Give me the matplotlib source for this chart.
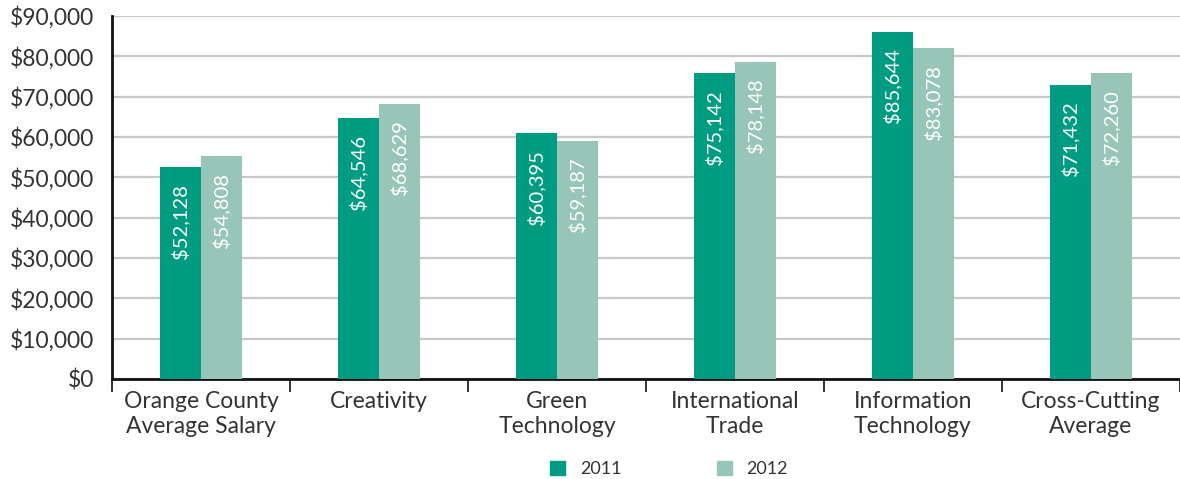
import matplotlib
matplotlib.use("Agg")
import matplotlib.pyplot as plt
from matplotlib.ticker import FuncFormatter, FixedLocator
from matplotlib.patches import Patch
import numpy as np

categories = ["Orange County\nAverage Salary", "Creativity", "Green\nTechnology",
              "International\nTrade", "Information\nTechnology", "Cross-Cutting\nAverage"]
# bar heights as drawn in the reference
heights_2011 = [52500, 64700, 61000, 75800, 86100, 72900]
heights_2012 = [55300, 68200, 59000, 78600, 82000, 75800]
# printed data labels
labels_2011 = ["$52,128", "$64,546", "$60,395", "$75,142", "$85,644", "$71,432"]
labels_2012 = ["$54,808", "$68,629", "$59,187", "$78,148", "$83,078", "$72,260"]
series_names = ["2011", "2012"]

c2011 = "#009C82"
c2012 = "#97C5B8"
txt = "#333333"

plt.rcParams['font.family'] = ['Lato', 'DejaVu Sans']

fig = plt.figure(figsize=(11.8, 4.79), dpi=100)
ax = fig.add_axes([0.0949, 0.2088, 0.905, 0.7578])

x = np.arange(len(categories))
w = 0.23
b1 = ax.bar(x - w/2, heights_2011, w, color=c2011, zorder=3)
b2 = ax.bar(x + w/2, heights_2012, w, color=c2012, zorder=3)

for rects, labs in ((b1, labels_2011), (b2, labels_2012)):
    for r, lab in zip(rects, labs):
        ax.annotate(lab, (r.get_x() + r.get_width()/2, r.get_height()),
                    xytext=(0, -12), textcoords="offset points",
                    rotation=90, ha="center", va="top", color="white",
                    fontsize=14.5, zorder=4)

ax.set_ylim(0, 90000)
ax.set_xlim(-0.5, len(categories) - 0.5)
ax.set_yticks(np.arange(0, 90001, 10000))
ax.yaxis.set_major_formatter(FuncFormatter(lambda v, p: f"${v:,.0f}"))
ax.yaxis.grid(True, color="#c8c8c8", linewidth=1.6, zorder=0)
ax.set_axisbelow(True)

ax.set_xticks(x)
ax.set_xticklabels(categories, fontsize=16.5, color=txt, linespacing=1.2)
ax.xaxis.set_minor_locator(FixedLocator(np.arange(-0.5, len(categories), 1.0)))
ax.tick_params(axis="x", which="major", length=0, pad=9)
ax.tick_params(axis="x", which="minor", length=9, width=1.3, color="#222222")
ax.tick_params(axis="y", length=0, labelsize=16.5, labelcolor=txt, pad=13)

for s in ("top", "right"):
    ax.spines[s].set_visible(False)
for s in ("left", "bottom"):
    ax.spines[s].set_linewidth(2)
    ax.spines[s].set_color("#111111")

handles = [Patch(color=c2011), Patch(color=c2012)]
fig.legend(handles, series_names, loc="lower center", bbox_to_anchor=(0.567, -0.03),
           ncol=2, frameon=False, fontsize=13, handlelength=0.85, handleheight=0.85,
           columnspacing=5.3, handletextpad=0.8, labelcolor=txt)

fig.savefig("out.png", dpi=100)
